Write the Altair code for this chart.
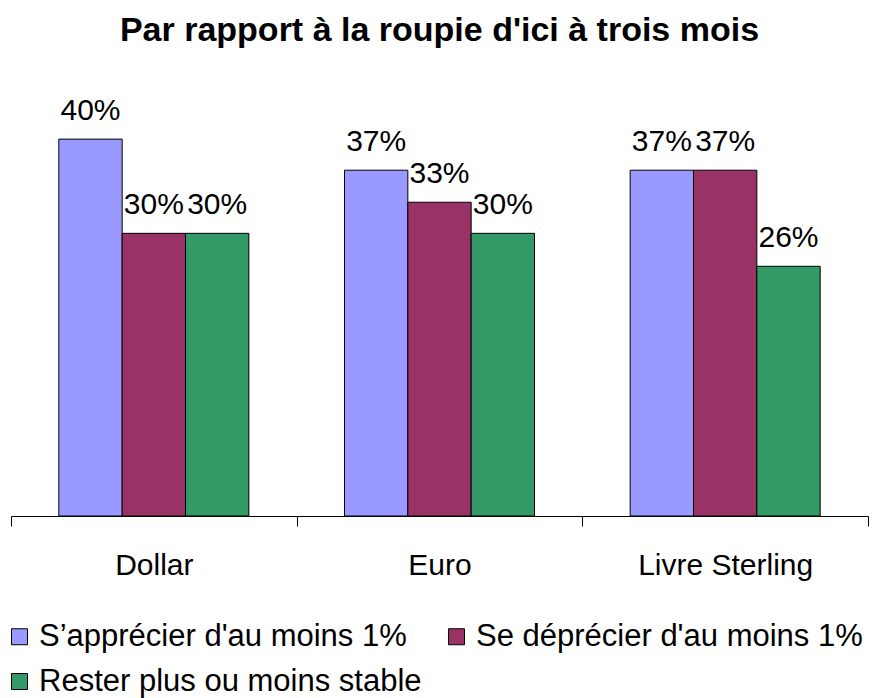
import altair as alt
import pandas as pd

categories = ["Dollar", "Euro", "Livre Sterling"]
series = ["S\u2019apprécier d'au moins 1%", "Se déprécier d'au moins 1%", "Rester plus ou moins stable"]
colors = ["#9999FF", "#993366", "#339966"]

apprecier = [40, 36.7, 36.7]
deprecier = [30, 33.3, 36.7]
stable = [30, 30, 26.5]
labels_apprecier = ["40%", "37%", "37%"]
labels_deprecier = ["30%", "33%", "37%"]
labels_stable = ["30%", "30%", "26%"]

rows = []
for vals, labs, s in [(apprecier, labels_apprecier, series[0]),
                      (deprecier, labels_deprecier, series[1]),
                      (stable, labels_stable, series[2])]:
    for c, v, l in zip(categories, vals, labs):
        rows.append({"devise": c, "serie": s, "valeur": v, "label": l})
df = pd.DataFrame(rows)

FONT = "Liberation Sans"

x = alt.X("devise:N", sort=categories,
          scale=alt.Scale(paddingInner=0, paddingOuter=0),
          axis=alt.Axis(title=None, labelAngle=0, tickBand="extent", tickSize=10,
                        domainColor="black", tickColor="black", labelColor="black",
                        labelFont=FONT, labelFontSize=30, labelPadding=24, grid=False))
xo = alt.XOffset("serie:N", sort=series,
                 scale=alt.Scale(paddingOuter=0.755, paddingInner=0))
y = alt.Y("valeur:Q", axis=None, scale=alt.Scale(domain=[0, 45]))

bars = alt.Chart(df).mark_bar(stroke="black", strokeWidth=1).encode(
    x=x, xOffset=xo, y=y,
    color=alt.Color("serie:N", sort=series,
                    scale=alt.Scale(domain=series, range=colors),
                    legend=alt.Legend(title=None, orient="none", legendX=-7, legendY=529,
                                      columns=2, direction="horizontal",
                                      symbolType="square", symbolSize=256,
                                      symbolStrokeColor="black", symbolStrokeWidth=1,
                                      labelFont=FONT, labelFontSize=31, labelColor="black",
                                      labelOffset=4, rowPadding=13, columnPadding=19,
                                      labelLimit=0)),
)

text = alt.Chart(df).mark_text(font=FONT, fontSize=30, color="black",
                               baseline="alphabetic", dy=-19).encode(
    x=x, xOffset=xo, y=y, text="label:N")

chart = alt.layer(bars, text).properties(
    width=857, height=424,
    background="white",
    title=alt.TitleParams("Par rapport à la roupie d'ici à trois mois",
                          font=FONT, fontSize=34, fontWeight="bold", color="black",
                          anchor="middle", offset=44),
    autosize=alt.AutoSizeParams(type="none"),
    padding={"left": 11, "top": 92, "right": 4, "bottom": 182},
).configure_view(stroke=None)

chart.save("out.html", embed_options={"renderer": "svg", "actions": False})
